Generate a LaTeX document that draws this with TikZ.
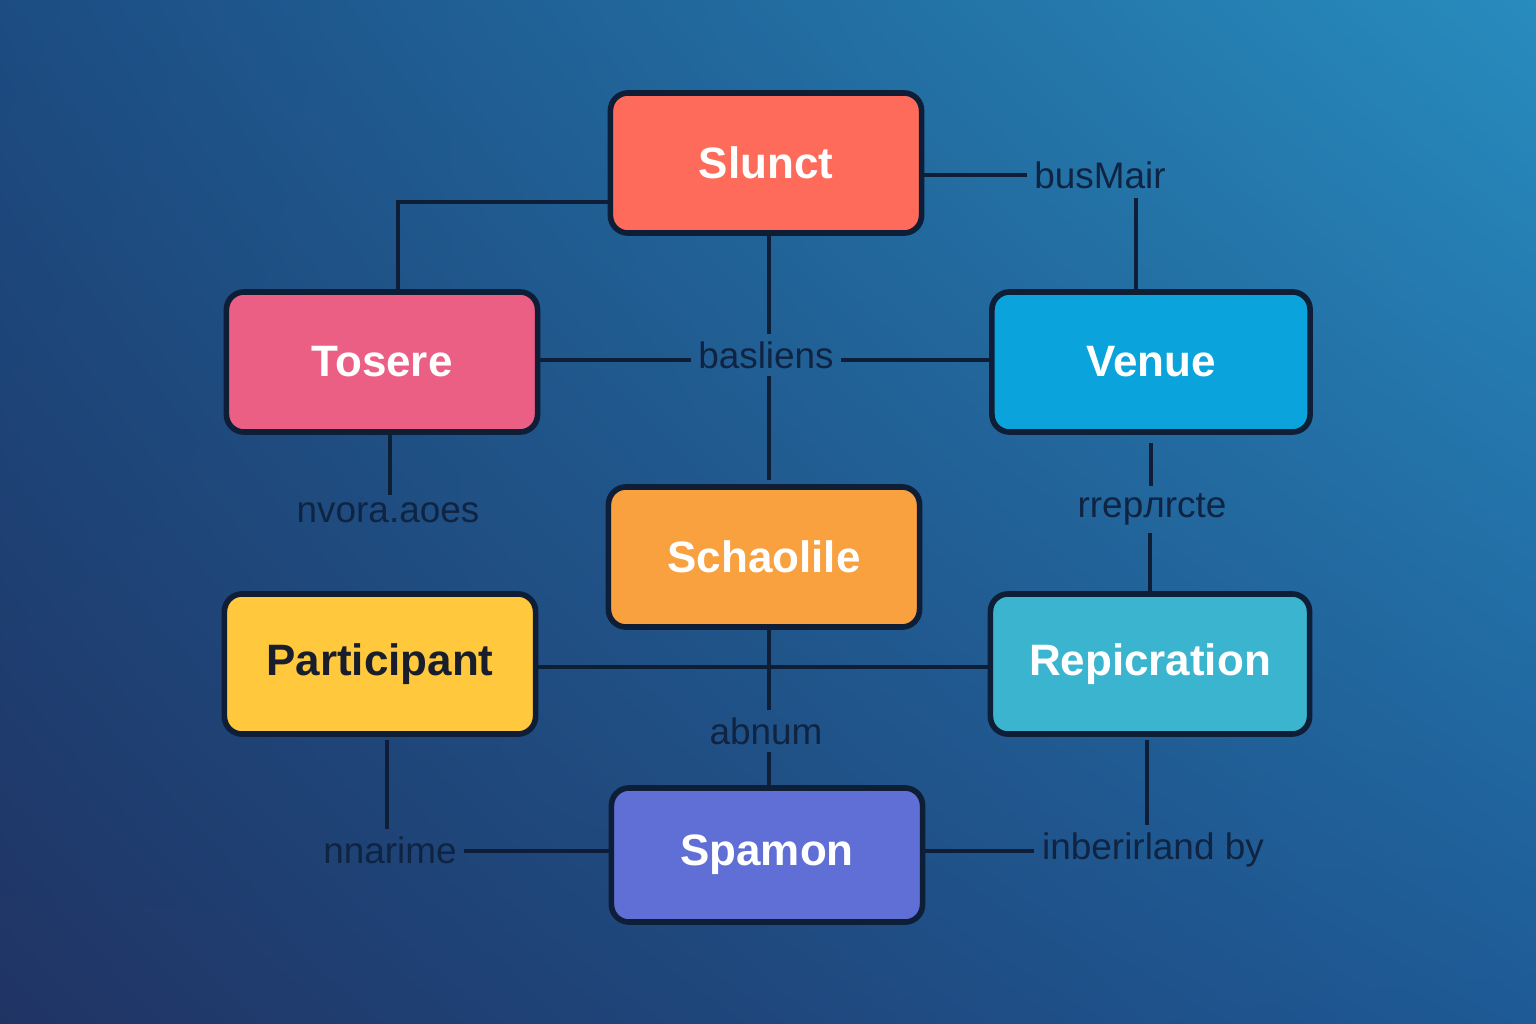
\documentclass[tikz,border=0pt]{standalone}
\usepackage{fontspec}
\setmainfont{Liberation Sans}
\usetikzlibrary{shadings}
\definecolor{bgul}{RGB}{28,76,130}
\definecolor{bgur}{RGB}{40,140,190}
\definecolor{bgll}{RGB}{32,52,100}
\definecolor{bglr}{RGB}{30,90,150}
\definecolor{cred}{RGB}{255,107,90}
\definecolor{cpink}{RGB}{236,95,133}
\definecolor{cblue}{RGB}{10,163,219}
\definecolor{corange}{RGB}{249,160,63}
\definecolor{cyellow}{RGB}{255,200,61}
\definecolor{cteal}{RGB}{59,181,207}
\definecolor{cindigo}{RGB}{95,111,214}
\definecolor{ctxt}{RGB}{25,30,45}
\definecolor{clab}{RGB}{15,36,66}
\definecolor{cline}{RGB}{15,30,55}
\begin{document}
\begin{tikzpicture}[x=0.01cm,y=-0.01cm,
  box/.style={draw=cline, line width=1.6pt, rounded corners=5pt, minimum width=3.11cm, minimum height=1.40cm, text=white, font=\fontsize{12.5}{14}\selectfont\bfseries},
  lab/.style={text=clab, font=\fontsize{10.5}{12}\selectfont, inner sep=2pt},
  ln/.style={draw=cline, line width=1.1pt}]
\useasboundingbox (0,0) rectangle (1536,1024);
\shade[upper left=bgul, upper right=bgur, lower left=bgll, lower right=bglr] (0,0) rectangle (1536,1024);
\node[box, fill=cred] (sl) at (766,163) {Slunct};
\node[box, fill=cpink] (to) at (382,362) {Tosere};
\node[box, fill=cblue, minimum width=3.18cm] (ve) at (1151,362) {Venue};
\node[box, fill=corange] (sc) at (764,557) {Schaolile};
\node[box, fill=cyellow, text=ctxt] (pa) at (380,664) {Participant};
\node[box, fill=cteal, minimum width=3.19cm] (re) at (1150,664) {Repicration};
\node[box, fill=cindigo, minimum height=1.34cm] (sp) at (767,855) {Spamon};
\node[lab] (bm) at (1100,175) {busMair};
\node[lab] (ba) at (766,355) {basliens};
\node[lab] (nv) at (388,513) {nvora.aoes};
\node[lab] (rr) at (1152,509) {rrepлrcte};
\node[lab] (ab) at (766,731) {abnum};
\node[lab] (nn) at (390,850) {nnarime};
\node[lab] (ib) at (1153,850) {inberirland by};
\coordinate (c1) at (398,202);
\draw[ln] (sl.west |- c1) -- (c1) -- (c1 |- to.north);
\draw[ln] (sl.east |- bm.west) -- (bm.west);
\draw[ln] (1136,198) -- (1136,292);
\draw[ln] (769,233) -- (ba.north -| 769,0);
\draw[ln] (ba.south -| 769,0) -- (769,480);
\draw[ln] (to.east |- 0,360) -- (ba.west |- 0,360);
\draw[ln] (ba.east |- 0,360) -- (ve.west |- 0,360);
\draw[ln] (390,432) -- (nv.north -| 390,0);
\draw[ln] (1151,443) -- (rr.north -| 1151,0);
\draw[ln] (rr.south -| 1150,0) -- (1150,592);
\draw[ln] (pa.east |- 0,667) -- (re.west |- 0,667);
\draw[ln] (769,626) -- (ab.north -| 769,0);
\draw[ln] (ab.south -| 769,0) -- (769,787);
\draw[ln] (387,740) -- (nn.north -| 387,0);
\draw[ln] (nn.east |- 0,851) -- (sp.west |- 0,851);
\draw[ln] (sp.east |- 0,851) -- (ib.west |- 0,851);
\draw[ln] (1147,740) -- (ib.north -| 1147,0);
\end{tikzpicture}
\end{document}
